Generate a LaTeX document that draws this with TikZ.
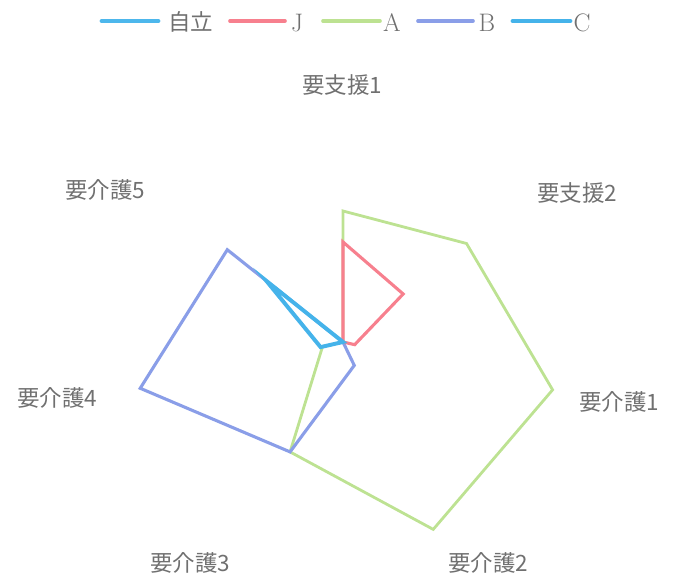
\documentclass[tikz,border=0pt]{standalone}
\usepackage{fontspec}
\newfontfamily\jp{Noto Sans CJK JP}
\usepackage{tikz}

\definecolor{labelgray}{HTML}{707070}
\definecolor{jiritsu}{HTML}{4DB7EC}
\definecolor{seriesJ}{HTML}{F7808E}
\definecolor{seriesA}{HTML}{BDE292}
\definecolor{seriesB}{HTML}{8A9EE8}
\definecolor{seriesC}{HTML}{45B3EA}

\begin{document}
\begin{tikzpicture}[x=0.025cm, y=0.025cm,
    axislabel/.style={text=labelgray, font=\jp\fontsize{16}{19}\selectfont, inner sep=0pt},
    keytext/.style={text=labelgray, font=\fontsize{18}{21}\selectfont, inner sep=0pt},
    series/.style={line width=2pt, miter limit=20},
    keyline/.style={line width=2.6pt, line cap=round}]
    \useasboundingbox (-343,-235) rectangle (330,342);

    % legend
    \coordinate (k0a) at (-241,321); \coordinate (k0b) at (-185,321);
    \coordinate (kja) at (-113,321); \coordinate (kjb) at (-58,321);
    \coordinate (kaa) at (-20,321);  \coordinate (kab) at (37,321);
    \coordinate (kba) at (75,321);   \coordinate (kbb) at (130,321);
    \coordinate (kca) at (170,321);  \coordinate (kcb) at (227,321);
    \draw[keyline, jiritsu, line width=3.4pt] (k0a) -- (k0b);
    \draw[keyline, seriesJ] (kja) -- (kjb);
    \draw[keyline, seriesA] (kaa) -- (kab);
    \draw[keyline, seriesB] (kba) -- (kbb);
    \draw[keyline, seriesC, line width=3.4pt] (kca) -- (kcb);
    \node[keytext, font=\jp\fontsize{16}{19}\selectfont] (t0) at (-152,320) {自立};
    \node[keytext] (tj) at (-46,319) {J};
    \node[keytext] (ta) at (49,319) {A};
    \node[keytext] (tb) at (144,319) {B};
    \node[keytext] (tc) at (239,319) {C};

    % axis labels
    \node[axislabel] (s1) at (-1,257) {要支援1};
    \node[axislabel] (s2) at (234,149) {要支援2};
    \node[axislabel] (c1) at (276,-60) {要介護1};
    \node[axislabel] (c2) at (145,-221) {要介護2};
    \node[axislabel] (c3) at (-153,-221) {要介護3};
    \node[axislabel] (c4) at (-286,-56) {要介護4};
    \node[axislabel] (c5) at (-238,152) {要介護5};

    % data points, one axis every 360/7 degrees
    \foreach \v [count=\i] in {131,158,215,208,122,21,0}
        \coordinate (a\i) at ({90-(\i-1)*360/7}:\v);
    \foreach \v [count=\i] in {100,77,12,0,0,0,0}
        \coordinate (j\i) at ({90-(\i-1)*360/7}:\v);
    \foreach \v [count=\i] in {0,0,0,26,122,208,148}
        \coordinate (b\i) at ({90-(\i-1)*360/7}:\v);
    \foreach \v [count=\i] in {0,0,0,0,0,23,98}
        \coordinate (c\i) at ({90-(\i-1)*360/7}:\v);

    \draw[series, seriesA] (a1) -- (a2) -- (a3) -- (a4) -- (a5) -- (a6) -- (a7) -- cycle;
    \draw[series, seriesB, line width=2.2pt] (b1) -- (b2) -- (b3) -- (b4) -- (b5) -- (b6) -- (b7) -- cycle;
    \draw[series, seriesJ, line width=2.2pt] (j1) -- (j2) -- (j3) -- (j4) -- (j5) -- (j6) -- (j7) -- cycle;
    \draw[series, seriesC, line width=2.8pt] (c1) -- (c2) -- (c3) -- (c4) -- (c5) -- (c6) -- (c7) -- cycle;
\end{tikzpicture}
\end{document}
